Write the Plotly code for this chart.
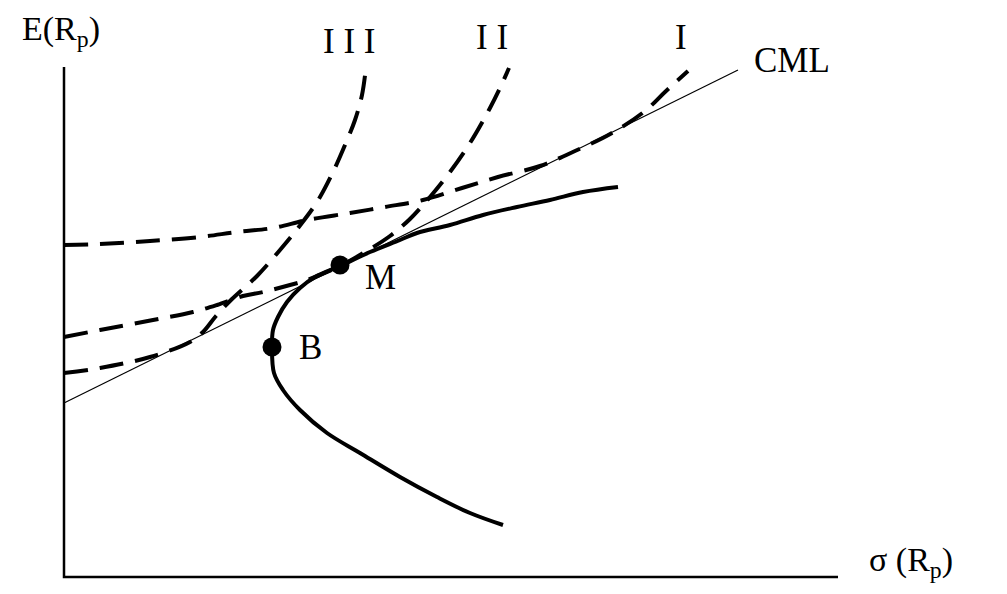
import plotly.graph_objects as go

# schematic units: 1 unit ~ 10 px; origin at the axes corner
frontier_x = [43.9, 40.6, 37.3, 33.6, 29.6, 26.3, 23.6, 21.9, 21.0, 20.8, 20.9, 21.4, 22.3, 23.6, 25.1, 27.6, 30.6, 33.6, 35.3, 38.6, 41.9, 45.3, 48.6, 51.9, 55.4]
frontier_y = [5.2, 6.4, 8.0, 10.0, 12.4, 14.4, 16.7, 18.7, 20.4, 23.0, 24.7, 26.0, 27.5, 28.9, 30.0, 31.1, 32.5, 33.7, 34.4, 35.2, 36.2, 37.0, 37.7, 38.5, 39.0]

cml_x = [0.0, 67.4]
cml_y = [17.4, 50.7]

curve1_x = [0.0, 3.6, 8.6, 13.6, 17.3, 20.9, 24.3, 28.6, 32.1, 35.9, 39.8, 43.4, 47.6, 51.1, 54.8, 58.1, 60.1, 62.4]
curve1_y = [33.2, 33.3, 33.6, 34.0, 34.5, 34.9, 35.7, 36.4, 37.0, 37.7, 38.9, 40.0, 41.1, 42.6, 44.4, 46.6, 48.5, 50.6]

curve2_x = [0.0, 3.6, 8.9, 12.9, 15.3, 17.9, 19.9, 22.6, 24.3, 27.6, 30.1, 32.6, 34.6, 36.6, 38.6, 40.6, 42.6, 43.6, 44.5]
curve2_y = [24.0, 24.7, 25.7, 26.5, 27.2, 28.1, 28.5, 29.2, 29.7, 31.1, 32.5, 34.1, 35.8, 38.0, 40.5, 43.4, 46.9, 48.9, 50.9]

curve3_x = [0.0, 3.6, 8.6, 12.6, 13.9, 15.2, 16.8, 19.3, 21.6, 23.4, 25.3, 26.9, 28.1, 29.1, 29.8, 30.2]
curve3_y = [20.4, 20.9, 22.0, 23.5, 24.5, 26.1, 27.8, 30.1, 32.7, 34.9, 37.5, 40.5, 43.2, 45.7, 48.2, 51.0]

point_names = ["M", "B"]
point_x = [27.6, 20.8]
point_y = [31.2, 23.0]

axis_x_end = 77.4
axis_y_end = 51.0

FONT = "Liberation Serif"

fig = go.Figure()
# axes
fig.add_trace(go.Scatter(x=[0, 0, axis_x_end], y=[axis_y_end, 0, 0], mode="lines",
                         line=dict(color="black", width=2.5), hoverinfo="skip"))
# CML
fig.add_trace(go.Scatter(x=cml_x, y=cml_y, mode="lines", line=dict(color="black", width=1.2)))
# indifference curves
for cx, cy in [(curve1_x, curve1_y), (curve2_x, curve2_y), (curve3_x, curve3_y)]:
    fig.add_trace(go.Scatter(x=cx, y=cy, mode="lines",
                             line=dict(color="black", width=4, dash="24px,12px", shape="spline", smoothing=1)))
# efficient frontier
fig.add_trace(go.Scatter(x=frontier_x, y=frontier_y, mode="lines",
                         line=dict(color="black", width=4, shape="spline", smoothing=1)))
# points
fig.add_trace(go.Scatter(x=point_x, y=point_y, mode="markers",
                         marker=dict(color="black", size=19)))

labels = [
    ("I I I", 28.5, 53.6),
    ("I I", 42.8, 54.0),
    ("I", 61.7, 54.0),
    ("CML", 72.8, 51.7),
    ("M", 31.6, 30.0),
    ("B", 24.6, 23.0),
]
for t, x, y in labels:
    fig.add_annotation(x=x, y=y, text=t, showarrow=False, xanchor="center", yanchor="middle",
                       font=dict(family=FONT, size=35, color="black"))

fig.add_annotation(x=-4.4, y=54.6, text="E(R<sub>p</sub>)", showarrow=False, xanchor="left",
                   yanchor="middle", font=dict(family=FONT, size=34, color="black"))
fig.add_annotation(x=80.3, y=1.5, text="σ (R<sub>p</sub>)",
                   showarrow=False, xanchor="left", yanchor="middle",
                   font=dict(family=FONT, size=34, color="black"))

# page body has an 8px margin, so the figure is 16px smaller and ranges offset accordingly
fig.update_layout(
    width=991, height=578,
    margin=dict(l=0, r=0, t=0, b=0),
    paper_bgcolor="white", plot_bgcolor="white",
    showlegend=False,
    xaxis=dict(range=[-5.6, 93.5], visible=False),
    yaxis=dict(range=[-0.9, 56.9], visible=False),
)
fig.write_html("out.html")
